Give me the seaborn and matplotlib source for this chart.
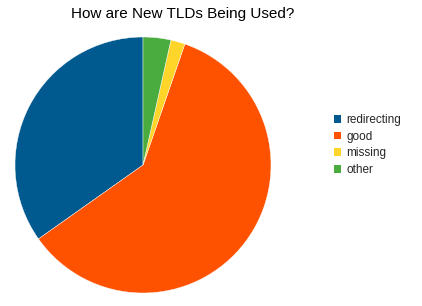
import matplotlib
matplotlib.use("Agg")
import matplotlib.pyplot as plt
import seaborn as sns
from matplotlib.patches import Patch

categories = ["redirecting", "good", "missing", "other"]
values = [34.8, 59.9, 1.8, 3.5]
colors = ["#00598f", "#ff5200", "#ffd52a", "#4aab3e"]
title = "How are New TLDs Being Used?"

sns.set_theme(style="white")
plt.rcParams['font.family'] = ['Liberation Sans', 'DejaVu Sans']

fig = plt.figure(figsize=(4.22, 3.06), dpi=100)
ax = fig.add_axes([15/422, 13/306, 256/422, 256/306])
ax.pie(values, colors=colors, startangle=90, counterclock=True,
       wedgeprops=dict(edgecolor="white", linewidth=0.3))
ax.set_xlim(-1, 1)
ax.set_ylim(-1, 1)
ax.set_aspect("equal")
ax.axis("off")

fig.text(183/422, 1 - 14/306, title, ha="center", va="center", fontsize=11, color="black")

handles = [Patch(facecolor=c, edgecolor="none") for c in colors]
fig.legend(handles, categories, loc="center left", bbox_to_anchor=(334/422, 1 - 145/306),
           frameon=False, fontsize=8.5, handlelength=0.6, handleheight=0.6,
           handletextpad=0.45, labelspacing=0.4, borderaxespad=0, borderpad=0)

fig.savefig("out.png", dpi=100)
